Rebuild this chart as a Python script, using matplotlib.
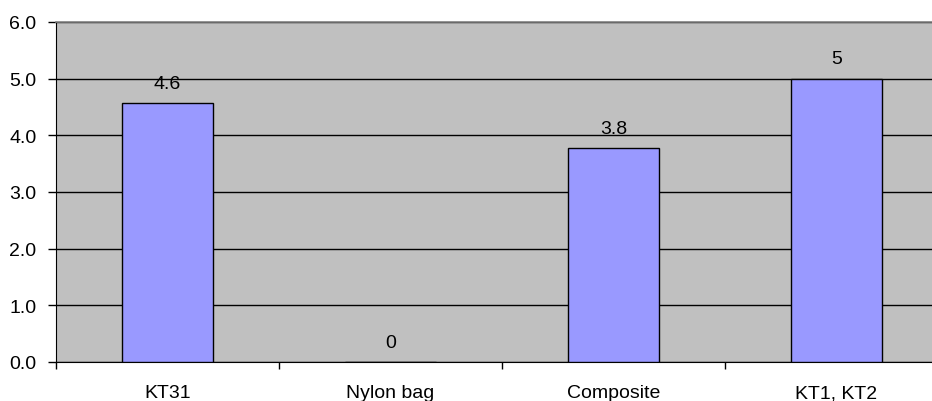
import matplotlib.pyplot as plt
import numpy as np

categories = ["KT31", "Nylon bag", "Composite", "KT1, KT2"]
values = [4.57, 0.0, 3.78, 5.0]
y_ticks = [0, 1, 2, 3, 4, 5, 6]

plt.rcParams["font.family"] = ["Liberation Sans", "DejaVu Sans"]
FS = 14

fig = plt.figure(figsize=(9.32, 4.02), dpi=100)
ax = fig.add_axes([56 / 932, 39 / 402, 892 / 932, 340 / 402])
ax.set_facecolor("#C0C0C0")

x = np.arange(len(categories))
ax.bar(x, values, width=0.41, color="#9999FF", edgecolor="black", linewidth=1.0, zorder=3)

for xi, v in zip(x, values):
    ax.annotate(f"{round(v, 1):g}", (xi, v), xytext=(0, 11), textcoords="offset points",
                ha="center", va="baseline", fontsize=FS, color="black", zorder=4)

ax.set_xlim(-0.5, len(categories) - 0.5)
ax.set_ylim(0, 6)
ax.set_yticks(y_ticks)
ax.set_yticklabels([f"{t:.1f}" for t in y_ticks], fontsize=FS)
ax.yaxis.grid(True, color="black", linewidth=1.0)
ax.set_axisbelow(True)

ax.set_xticks(np.arange(len(categories) + 1) - 0.5)
ax.set_xticklabels([])
ax.set_xticks(x, minor=True)
ax.set_xticklabels(categories, minor=True, fontsize=FS)
ax.tick_params(axis="x", which="major", length=5, width=1, direction="out")
ax.tick_params(axis="x", which="minor", length=0, pad=16)
ax.tick_params(axis="y", length=6, width=1, pad=8)

ax.spines["top"].set_color("#808080")
ax.spines["top"].set_linewidth(1.2)
ax.spines["right"].set_visible(False)
ax.spines["left"].set_color("black")
ax.spines["bottom"].set_color("black")

fig.savefig("out.png", dpi=100)
